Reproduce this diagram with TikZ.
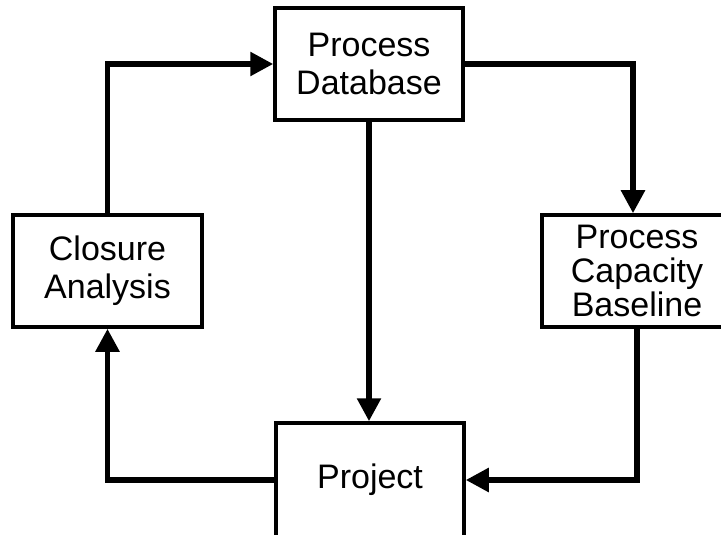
\documentclass[tikz,border=0pt]{standalone}
\usepackage{fontspec}
\setmainfont{Liberation Sans}
\usetikzlibrary{arrows.meta}

\begin{document}
\begin{tikzpicture}[x=1bp,y=-1bp,
    box/.style={draw,line width=3.5bp,fill=white,align=center,inner sep=0pt,
      font=\fontsize{34bp}{38bp}\selectfont},
    flow/.style={line width=5.5bp,-{Triangle[length=23bp,width=23bp]}}]
    \useasboundingbox (0,0) rectangle (721,535);
    \begin{scope}
    \clip (0,0) rectangle (721,535);
    % the four stages of the cycle
    \node[box,minimum width=188bp,minimum height=112bp] (db) at (369,64) {Process\\Database};
    \node[box,minimum width=189bp,minimum height=112bp] (ca) at (107.5,271) {Closure\\Analysis};
    \node[box,minimum width=190bp,minimum height=112bp,
      font=\fontsize{34bp}{34bp}\selectfont] (pcb) at (637,271) {Process\\Capacity\\Baseline};
    \node[box,minimum width=188bp,minimum height=114bp] (proj) at (370,480) {Project};
    % connectors
    \draw[flow] (ca.north) |- (db.west);
    \draw[flow] (db.east) -| ([xshift=-4bp]pcb.north);
    \draw[flow] (db.south) -- (db.south |- proj.north);
    \draw[flow] (pcb.south) |- (proj.east);
    \draw[flow] (proj.west) -| (ca.south);
    \end{scope}
  \end{tikzpicture}
\end{document}
